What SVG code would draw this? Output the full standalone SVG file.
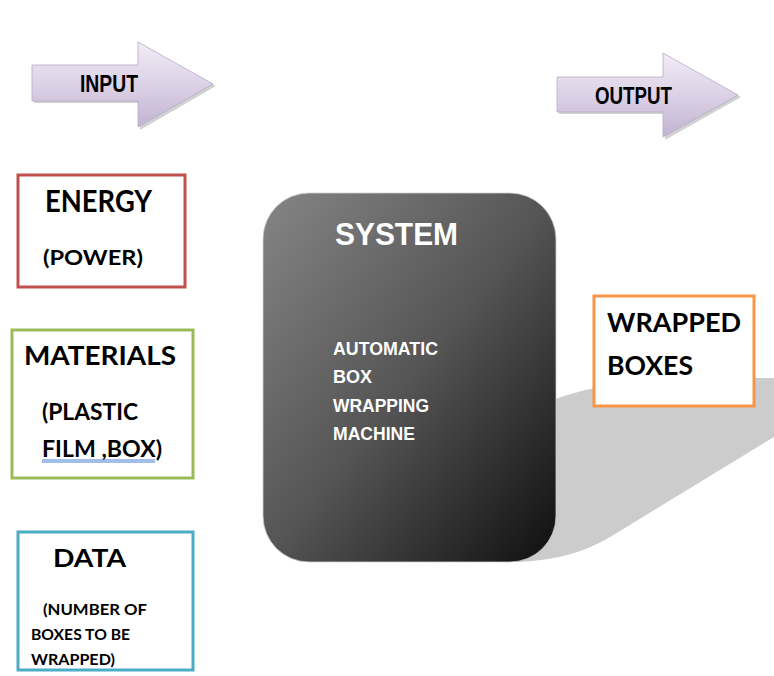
<svg xmlns="http://www.w3.org/2000/svg" width="774" height="676" viewBox="0 0 774 676">
<defs>
<linearGradient id="arrowGrad" x1="0" y1="0" x2="0" y2="1">
<stop offset="0" stop-color="#f1ecf6"/>
<stop offset="0.5" stop-color="#dcd2e6"/>
<stop offset="1" stop-color="#c2b3d3"/>
</linearGradient>
<linearGradient id="sysGrad" x1="0" y1="0" x2="1" y2="1">
<stop offset="0" stop-color="#858585"/>
<stop offset="0.5" stop-color="#555555"/>
<stop offset="1" stop-color="#0f0f0f"/>
</linearGradient>
<clipPath id="dataClip"><rect x="17" y="532" width="176" height="136"/></clipPath>
<style>
.arrow{fill:url(#arrowGrad);stroke:#b9aac9;stroke-width:0.8}
.arrowShadow{fill:#9a9a9a;opacity:0.45}
.arrowTxt{font-family:"Liberation Sans",Arial,sans-serif;font-weight:bold;fill:#000}
.box{fill:#fff;stroke-width:3}
.lbl{font-family:Lato,"Open Sans",sans-serif;font-weight:bold;fill:#000}
.sysTxt{font-family:"Liberation Sans",Arial,sans-serif;font-weight:bold;fill:#fff}
</style>
</defs>

<path id="shadowShape" d="M 530 410 C 570 390, 620 380, 690 378 L 774 378 L 774 437 L 610 537 C 585 552, 555 561, 515 562 L 515 540 Z" fill="#cccccc"/>

<g id="input-arrow">
<polygon class="arrowShadow" points="34,67 140,67 140,44 216,86 140,130 140,103 34,103"/>
<polygon class="arrow" points="32,65 138,65 138,42 213,84 138,127 138,101 32,101"/>
<text class="arrowTxt" x="80" y="92" font-size="24" textLength="58" lengthAdjust="spacingAndGlyphs">INPUT</text>
</g>

<g id="output-arrow">
<polygon class="arrowShadow" points="559,79 665,79 665,55 741,97 665,140 665,114 559,114"/>
<polygon class="arrow" points="557,77 663,77 663,53 738,95 663,137 663,112 557,112"/>
<text class="arrowTxt" x="595" y="104" font-size="24" textLength="77" lengthAdjust="spacingAndGlyphs">OUTPUT</text>
</g>

<g id="energy">
<rect class="box" x="18" y="175" width="167" height="112" stroke="#c0504d"/>
<text class="lbl" x="45" y="212" font-size="30" textLength="107" lengthAdjust="spacingAndGlyphs">ENERGY</text>
<text class="lbl" x="43" y="265" font-size="21" textLength="100" lengthAdjust="spacingAndGlyphs">(POWER)</text>
</g>

<g id="materials">
<rect class="box" x="12" y="330" width="181" height="148" stroke="#9bbb59"/>
<text class="lbl" x="24" y="365" font-size="26" textLength="152" lengthAdjust="spacingAndGlyphs">MATERIALS</text>
<text class="lbl" x="42" y="420" font-size="23" textLength="96" lengthAdjust="spacingAndGlyphs">(PLASTIC</text>
<text class="lbl" x="42" y="457" font-size="23" textLength="120" lengthAdjust="spacingAndGlyphs">FILM ,BOX)</text>
<line x1="42" y1="460" x2="155" y2="460" stroke="#2f6fd0" stroke-width="0.9"/>
<line x1="42" y1="462" x2="155" y2="462" stroke="#2f6fd0" stroke-width="0.9"/>
</g>

<g id="data">
<rect class="box" x="18" y="532" width="175" height="138" stroke="#4bacc6"/>
<g clip-path="url(#dataClip)">
<text class="lbl" x="53" y="567" font-size="25" textLength="73" lengthAdjust="spacingAndGlyphs">DATA</text>
<text class="lbl" x="43" y="615" font-size="16" textLength="104" lengthAdjust="spacingAndGlyphs">(NUMBER  OF</text>
<text class="lbl" x="31" y="640" font-size="16" textLength="99" lengthAdjust="spacingAndGlyphs">BOXES TO BE</text>
<text class="lbl" x="31" y="665" font-size="16" textLength="84" lengthAdjust="spacingAndGlyphs">WRAPPED)</text>
</g>
</g>

<g id="system">
<rect x="263" y="193" width="293" height="369" rx="46" ry="46" fill="url(#sysGrad)" stroke="#d0d0d0" stroke-width="0.8"/>
<text class="sysTxt" x="335" y="245" font-size="32" textLength="123" lengthAdjust="spacingAndGlyphs">SYSTEM</text>
<text class="sysTxt" x="333" y="355" font-size="18" textLength="105" lengthAdjust="spacingAndGlyphs">AUTOMATIC</text>
<text class="sysTxt" x="333" y="383" font-size="18">BOX</text>
<text class="sysTxt" x="333" y="412" font-size="18" textLength="96" lengthAdjust="spacingAndGlyphs">WRAPPING</text>
<text class="sysTxt" x="333" y="440" font-size="18" textLength="82" lengthAdjust="spacingAndGlyphs">MACHINE</text>
</g>

<g id="wrapped-boxes">
<rect class="box" x="594" y="296" width="160" height="110" stroke="#f79646"/>
<text class="lbl" x="607" y="332" font-size="27" textLength="134" lengthAdjust="spacingAndGlyphs">WRAPPED</text>
<text class="lbl" x="607" y="375" font-size="27" textLength="86" lengthAdjust="spacingAndGlyphs">BOXES</text>
</g>

<g id="connectors"></g>
</svg>
